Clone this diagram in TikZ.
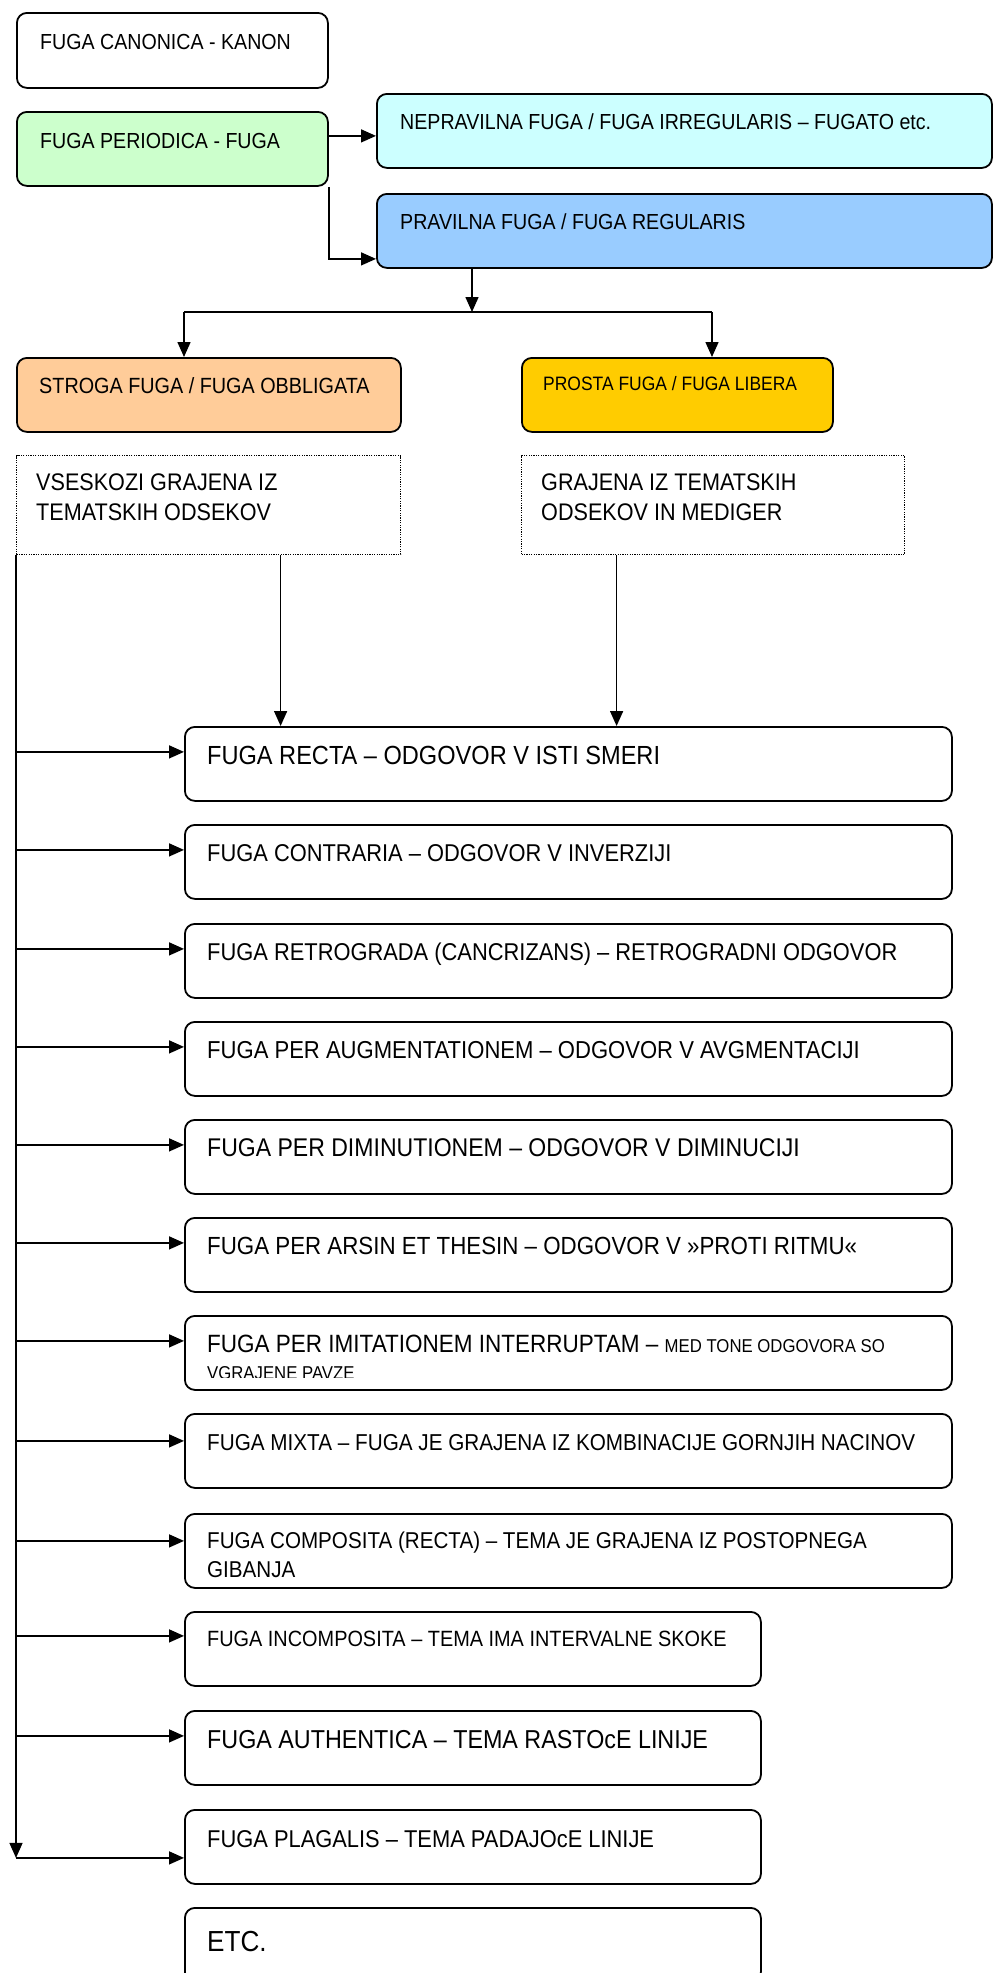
\documentclass[tikz,border=0pt]{standalone}
\usepackage{fontspec}
\setmainfont{Liberation Sans}[FakeStretch=0.9]
\usetikzlibrary{arrows.meta,calc}
\definecolor{cgreen}{HTML}{CCFFCC}
\definecolor{ccyan}{HTML}{CCFFFF}
\definecolor{cblue}{HTML}{99CCFF}
\definecolor{corange}{HTML}{FFCC99}
\definecolor{cgold}{HTML}{FFCC00}
\newcommand{\fsz}[1]{\fontsize{#1pt}{30pt}\selectfont}
\begin{document}
\begin{tikzpicture}[x=1pt,y=-1pt,
  bx/.style={draw, rectangle, line width=1.8pt, rounded corners=10pt, inner sep=0pt, anchor=north west},
  dbx/.style={draw, rectangle, line width=1.2pt, dash pattern=on 1.2pt off 1.2pt, inner sep=0pt, anchor=north west},
  tx/.style={anchor=base west, inner sep=0pt, font=\fsz{21.8}},
  txp/.style={anchor=base west, inner sep=0pt, font=\fsz{19.4}},
  txd/.style={anchor=base west, inner sep=0pt, font=\fsz{24}},
  txl/.style={anchor=base west, inner sep=0pt, font=\fsz{24.3}},
  ln/.style={line width=1.5pt},
  arr/.style={line width=1.5pt, -{Triangle[length=15pt,width=13pt]}}
]
\useasboundingbox (0,0) rectangle (993,1973);
\clip (0,0) rectangle (993,1973);
\fill[white] (0,0) rectangle (993,1973);

% top boxes
\node[bx, minimum width=311pt, minimum height=75pt] (kanon) at (16,12) {};
\node[bx, fill=cgreen, minimum width=311pt, minimum height=74pt] (periodica) at (16,111) {};
\node[bx, fill=ccyan, minimum width=615pt, minimum height=74pt] (neprav) at (376,93) {};
\node[bx, fill=cblue, minimum width=615pt, minimum height=74pt] (pravilna) at (376,193) {};
\node[bx, fill=corange, minimum width=384pt, minimum height=74pt] (stroga) at (16,357) {};
\node[bx, fill=cgold, minimum width=311pt, minimum height=74pt] (prosta) at (521,357) {};
\node[dbx, minimum width=384pt, minimum height=99pt] (dl) at (16,455) {};
\node[dbx, minimum width=383pt, minimum height=99pt] (dr) at (521,455) {};

\node[tx] (tkanon) at ($(kanon.north west)+(24,37)$) {FUGA CANONICA - KANON};
\node[tx] (tperiodica) at ($(periodica.north west)+(24,37)$) {FUGA PERIODICA - FUGA};
\node[tx] (tneprav) at ($(neprav.north west)+(24,36)$) {NEPRAVILNA FUGA / FUGA IRREGULARIS – FUGATO etc.};
\node[tx] (tpravilna) at ($(pravilna.north west)+(24,36)$) {PRAVILNA FUGA / FUGA REGULARIS};
\node[tx, font=\fsz{22}] (tstroga) at ($(stroga.north west)+(23,36)$) {STROGA FUGA / FUGA OBBLIGATA};
\node[txp] (tprosta) at ($(prosta.north west)+(22,33)$) {PROSTA FUGA / FUGA LIBERA};
\node[txd] (tdl1) at ($(dl.north west)+(20,35)$) {VSESKOZI GRAJENA IZ};
\node[txd] (tdl2) at ($(dl.north west)+(20,65)$) {TEMATSKIH ODSEKOV};
\node[txd] (tdr1) at ($(dr.north west)+(20,35)$) {GRAJENA IZ TEMATSKIH};
\node[txd] (tdr2) at ($(dr.north west)+(20,65)$) {ODSEKOV IN MEDIGER};

% lower boxes
\foreach \n/\yy/\w in {recta/726/767, contraria/824/767, retro/923/767, augm/1021/767,
  dimin/1119/767, arsin/1217/767, imit/1315/767, mixta/1413/767, composita/1513/767,
  incomp/1611/576, authen/1710/576, plagalis/1809/576, etc/1907/576}
  {\node[bx, minimum width=\w pt, minimum height=74pt] (\n) at (184,\yy) {};}

\node[txl, font=\fsz{26.2}] (trecta) at ($(recta.north west)+(23,38)$) {FUGA RECTA – ODGOVOR V ISTI SMERI};
\node[txl] (tcontraria) at ($(contraria.north west)+(23,37)$) {FUGA CONTRARIA – ODGOVOR V INVERZIJI};
\node[txl] (tretro) at ($(retro.north west)+(23,37)$) {FUGA RETROGRADA (CANCRIZANS) – RETROGRADNI ODGOVOR};
\node[txl, font=\fsz{24.5}] (taugm) at ($(augm.north west)+(23,37)$) {FUGA PER AUGMENTATIONEM – ODGOVOR V AVGMENTACIJI};
\node[txl, font=\fsz{25.6}] (tdimin) at ($(dimin.north west)+(23,37)$) {FUGA PER DIMINUTIONEM – ODGOVOR V DIMINUCIJI};
\node[txl, font=\fsz{24.8}] (tarsin) at ($(arsin.north west)+(23,37)$) {FUGA PER ARSIN ET THESIN – ODGOVOR V »PROTI RITMU«};
\begin{scope}
  \clip ($(imit.north west)+(2,2)$) rectangle ($(imit.north east)+(-2,62)$);
  \node[txl, font=\fsz{25}] (timit1) at ($(imit.north west)+(23,37)$) {FUGA PER IMITATIONEM INTERRUPTAM – {\fsz{18.6}MED TONE ODGOVORA SO}};
  \node[anchor=base west, inner sep=0pt, font=\fsz{18.6}] (timit2) at ($(imit.north west)+(23,64)$) {VGRAJENE PAVZE};
\end{scope}
\node[txl, font=\fsz{23}] (tmixta) at ($(mixta.north west)+(23,37)$) {FUGA MIXTA – FUGA JE GRAJENA IZ KOMBINACIJE GORNJIH NACINOV};
\node[txl, font=\fsz{22.9}] (tcomp1) at ($(composita.north west)+(23,35)$) {FUGA COMPOSITA (RECTA) – TEMA JE GRAJENA IZ POSTOPNEGA};
\node[txl, font=\fsz{22.9}] (tcomp2) at ($(composita.north west)+(23,64)$) {GIBANJA};
\node[txl, font=\fsz{22.1}] (tincomp) at ($(incomp.north west)+(23,35)$) {FUGA INCOMPOSITA – TEMA IMA INTERVALNE SKOKE};
\node[txl, font=\fsz{25.9}] (tauthen) at ($(authen.north west)+(23,38)$) {FUGA AUTHENTICA – TEMA RASTOcE LINIJE};
\node[txl] (tplagalis) at ($(plagalis.north west)+(23,38)$) {FUGA PLAGALIS – TEMA PADAJOcE LINIJE};
\node[txl, font=\fsz{29}] (tetc) at ($(etc.north west)+(23,44)$) {ETC.};

% connectors top
\draw[arr] ([yshift=13pt]periodica.east) -- ([yshift=13pt]periodica.east -| neprav.west);
\coordinate (el) at ([yshift=-28pt]pravilna.west);
\draw[arr] (periodica.south east) |- (el);
\coordinate (hb) at (472,312);
\coordinate (hl) at (184,312);
\coordinate (hr) at (712,312);
\draw[ln] (hl) -- (hr);
\draw[arr] (hb |- pravilna.south) -- (hb);
\draw[arr] (hl) -- (hl |- stroga.north);
\draw[arr] (hr) -- (hr |- prosta.north);

% dotted boxes to recta
\draw[arr] ([xshift=72pt]dl.south) -- ([xshift=72pt]dl.south |- recta.north);
\draw[arr] ([xshift=-96.5pt]dr.south) -- ([xshift=-96.5pt]dr.south |- recta.north);

% left bus
\foreach \n/\s in {recta/12, contraria/12, retro/12, augm/12, dimin/12, arsin/12, imit/12,
  mixta/10, composita/10, incomp/13, authen/12, plagalis/-11}
{
  \coordinate (a-\n) at ([yshift=\s pt]\n.west);
  \draw[arr] (dl.south west |- a-\n) -- (a-\n);
}
\draw[arr] (dl.south west) -- (dl.south west |- a-plagalis);
\end{tikzpicture}
\end{document}
